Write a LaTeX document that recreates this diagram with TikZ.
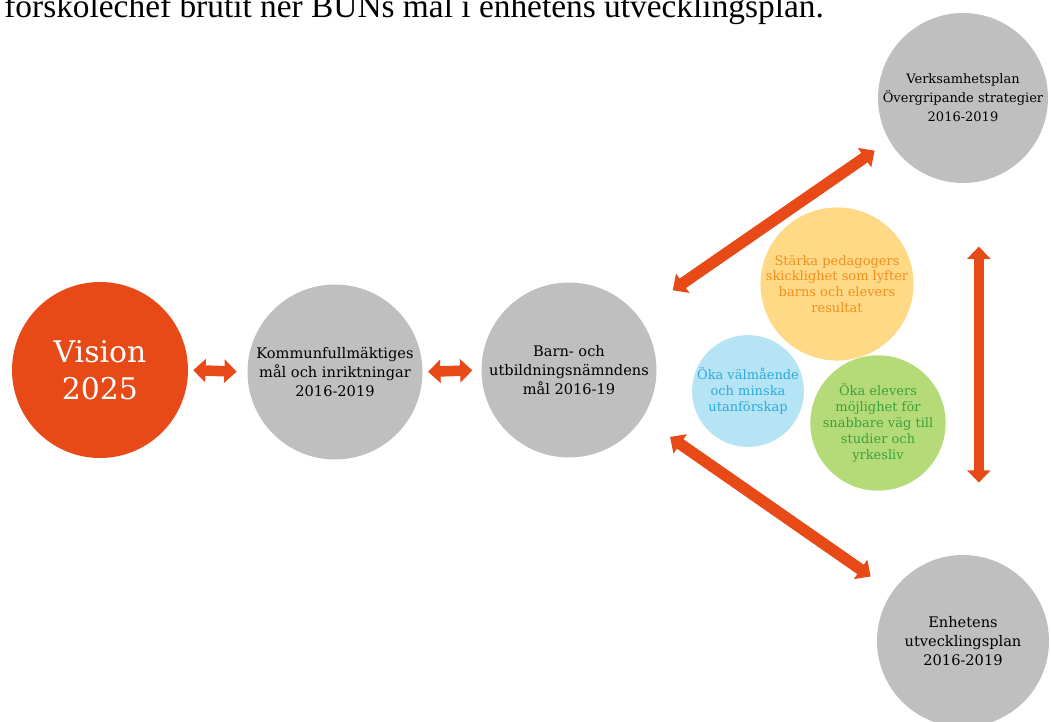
\documentclass[tikz,border=0pt]{standalone}
\usepackage{fontspec}
\setmainfont{DejaVu Serif}
\newfontfamily\headfont{Liberation Serif}
\usetikzlibrary{arrows.meta}
\definecolor{visionred}{HTML}{E84A17}
\definecolor{goalgray}{HTML}{BFBFBF}
\definecolor{sunfill}{HTML}{FFD985}
\definecolor{suntext}{HTML}{F0901E}
\definecolor{skyfill}{HTML}{B5E4F5}
\definecolor{skytext}{HTML}{2EA9DC}
\definecolor{leaffill}{HTML}{B5DB78}
\definecolor{leaftext}{HTML}{3AA13A}
\tikzset{
  goal/.style={shape=circle,fill=goalgray,inner sep=0pt,align=center,
    font=\fontsize{8.3}{10.8}\selectfont},
  focus/.style={shape=circle,inner sep=0pt,align=center,
    font=\fontsize{7.4}{9}\selectfont},
  twoway/.style={draw=visionred,line width=6pt,
    {Triangle[width=13pt,length=7pt]}-{Triangle[width=13pt,length=7pt]}}
}
\begin{document}
\begin{tikzpicture}[x=0.02cm,y=-0.02cm]
\useasboundingbox (0,0) rectangle (1051,722);
\clip (0,0) rectangle (1051,722);
% cut-off line of running text above the figure
\node [anchor=base west,inner sep=0pt,name=headline,font=\headfont\fontsize{19}{21}\selectfont] at (4,18){förskolechef brutit ner BUNs mål i enhetens utvecklingsplan.};
% chain of goals
\node [shape=circle,fill=visionred,text=white,inner sep=0pt,align=center,name=vision,minimum size=3.52cm,font=\fontsize{17}{21}\selectfont] at (100,370){Vision\\2025};
\node [goal,name=kommun,minimum size=3.5cm] at (335,372){Kommunfullmäktiges\\mål och inriktningar\\2016-2019};
\node [goal,name=bun,minimum size=3.5cm] at (569,370){Barn- och\\utbildningsnämndens\\mål 2016-19};
\node [goal,name=verks,minimum size=3.4cm,font=\fontsize{7.4}{10.8}\selectfont] at (963,98){Verksamhetsplan\\Övergripande strategier\\2016-2019};
\node [goal,name=enhet,minimum size=3.44cm] at (963,641){Enhetens\\utvecklingsplan\\2016-2019};
% focus areas
\node [focus,fill=sunfill,text=suntext,name=stark,minimum size=2.76cm] at (837,284){Stärka pedagogers\\skicklighet som lyfter\\barns och elevers\\resultat};
\node [focus,fill=skyfill,text=skytext,name=valmaende,minimum size=2.16cm] at (748,391){Öka välmående\\och minska\\utanförskap};
\node [focus,fill=leaffill,text=leaftext,name=elever,minimum size=2.6cm] at (878,423){Öka elevers\\möjlighet för\\snabbare väg till\\studier och\\yrkesliv};
% two-way arrows
\draw[twoway,shorten <=2.8pt,shorten >=6pt] (vision.east)--(kommun.west);
\draw[twoway,shorten <=3pt,shorten >=5pt] (kommun.east)--(bun.west);
\draw[twoway,line width=6.5pt,shorten <=24.5pt,shorten >=10pt] (bun.39)--(verks.210);
\draw[twoway,line width=6.5pt,shorten <=19pt,shorten >=15pt] (bun.-33)--(enhet.145);
\draw[twoway,shorten <=36pt,shorten >=41pt] ([xshift=9pt]verks.south)--([xshift=9pt]enhet.north);
\end{tikzpicture}
\end{document}
